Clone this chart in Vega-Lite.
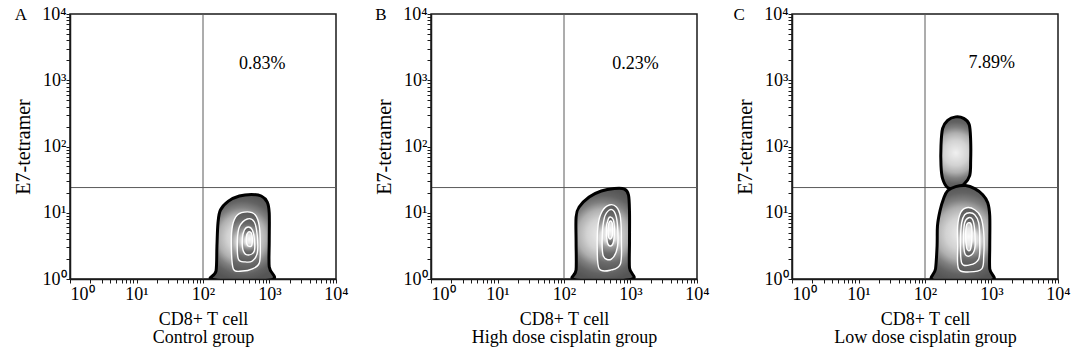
{
  "$schema": "https://vega.github.io/schema/vega-lite/v6.json",
  "background": "white",
  "padding": {"left": 12, "top": 4, "right": 5, "bottom": 3},
  "spacing": 95,
  "bounds": "flush",
  "config": {
    "view": {"stroke": "#1a1a1a", "strokeWidth": 1.5},
    "axis": {"labelFont": "Liberation Serif", "labelFontSize": 18, "labelColor": "#000", "titleFont": "Liberation Serif", "titleFontSize": 20, "titleFontWeight": "normal", "titleColor": "#000", "domainColor": "#1a1a1a", "domainWidth": 1.5, "tickColor": "#1a1a1a", "tickWidth": 1, "grid": false}
  },
  "datasets": {
    "gates": [
      {"panel": "A", "cd8": 100, "tetramer": 24},
      {"panel": "B", "cd8": 100, "tetramer": 24},
      {"panel": "C", "cd8": 100, "tetramer": 24}
    ],
    "labels": [
      {"panel": "A", "label": "0.83%", "cd8": 780, "tetramer": 1760},
      {"panel": "B", "label": "0.23%", "cd8": 1190, "tetramer": 1730},
      {"panel": "C", "label": "7.89%", "cd8": 1010, "tetramer": 1810}
    ],
    "letters": [
      {"panel": "A", "letter": "A", "cd8": 0.183, "tetramer": 8035},
      {"panel": "B", "letter": "B", "cd8": 0.176, "tetramer": 8035},
      {"panel": "C", "letter": "C", "cd8": 0.16, "tetramer": 8035}
    ],
    "contours": [
      {"panel":"A","level":"outer","shape":"A1","order":1,"cd8":134,"tetramer":1},
      {"panel":"A","level":"outer","shape":"A1","order":2,"cd8":157,"tetramer":1.32},
      {"panel":"A","level":"outer","shape":"A1","order":3,"cd8":162,"tetramer":3.15},
      {"panel":"A","level":"outer","shape":"A1","order":4,"cd8":168,"tetramer":7.0},
      {"panel":"A","level":"outer","shape":"A1","order":5,"cd8":183,"tetramer":11},
      {"panel":"A","level":"outer","shape":"A1","order":6,"cd8":241,"tetramer":15},
      {"panel":"A","level":"outer","shape":"A1","order":7,"cd8":352,"tetramer":17.9},
      {"panel":"A","level":"outer","shape":"A1","order":8,"cd8":533,"tetramer":18.9},
      {"panel":"A","level":"outer","shape":"A1","order":9,"cd8":752,"tetramer":17.9},
      {"panel":"A","level":"outer","shape":"A1","order":10,"cd8":925,"tetramer":14.5},
      {"panel":"A","level":"outer","shape":"A1","order":11,"cd8":991,"tetramer":9.9},
      {"panel":"A","level":"outer","shape":"A1","order":12,"cd8":991,"tetramer":3.75},
      {"panel":"A","level":"outer","shape":"A1","order":13,"cd8":991,"tetramer":1.52},
      {"panel":"A","level":"outer","shape":"A1","order":14,"cd8":1138,"tetramer":1},
      {"panel":"A","level":"outer","shape":"A1","order":15,"cd8":391,"tetramer":0.93},
      {"panel":"A","level":"ring2","shape":"A2","order":1,"cd8":286,"tetramer":1.42},
      {"panel":"A","level":"ring2","shape":"A2","order":2,"cd8":267,"tetramer":3.15},
      {"panel":"A","level":"ring2","shape":"A2","order":3,"cd8":277,"tetramer":6.31},
      {"panel":"A","level":"ring2","shape":"A2","order":4,"cd8":329,"tetramer":9.25},
      {"panel":"A","level":"ring2","shape":"A2","order":5,"cd8":464,"tetramer":10.3},
      {"panel":"A","level":"ring2","shape":"A2","order":6,"cd8":612,"tetramer":9.25},
      {"panel":"A","level":"ring2","shape":"A2","order":7,"cd8":702,"tetramer":6.31},
      {"panel":"A","level":"ring2","shape":"A2","order":8,"cd8":727,"tetramer":3.15},
      {"panel":"A","level":"ring2","shape":"A2","order":9,"cd8":702,"tetramer":1.74},
      {"panel":"A","level":"ring2","shape":"A2","order":10,"cd8":552,"tetramer":1.42},
      {"panel":"A","level":"ring2","shape":"A2","order":11,"cd8":391,"tetramer":1.32},
      {"panel":"A","level":"ring3","shape":"A3","order":1,"cd8":340,"tetramer":2.0},
      {"panel":"A","level":"ring3","shape":"A3","order":2,"cd8":329,"tetramer":3.75},
      {"panel":"A","level":"ring3","shape":"A3","order":3,"cd8":352,"tetramer":6.1},
      {"panel":"A","level":"ring3","shape":"A3","order":4,"cd8":464,"tetramer":8.05},
      {"panel":"A","level":"ring3","shape":"A3","order":5,"cd8":591,"tetramer":7.25},
      {"panel":"A","level":"ring3","shape":"A3","order":6,"cd8":655,"tetramer":4.46},
      {"panel":"A","level":"ring3","shape":"A3","order":7,"cd8":655,"tetramer":2.47},
      {"panel":"A","level":"ring3","shape":"A3","order":8,"cd8":552,"tetramer":1.87},
      {"panel":"A","level":"ring3","shape":"A3","order":9,"cd8":433,"tetramer":1.81},
      {"panel":"A","level":"ring4","shape":"A4","order":1,"cd8":404,"tetramer":2.65},
      {"panel":"A","level":"ring4","shape":"A4","order":2,"cd8":391,"tetramer":4.02},
      {"panel":"A","level":"ring4","shape":"A4","order":3,"cd8":419,"tetramer":5.49},
      {"panel":"A","level":"ring4","shape":"A4","order":4,"cd8":481,"tetramer":6.1},
      {"panel":"A","level":"ring4","shape":"A4","order":5,"cd8":552,"tetramer":5.49},
      {"panel":"A","level":"ring4","shape":"A4","order":6,"cd8":591,"tetramer":4.02},
      {"panel":"A","level":"ring4","shape":"A4","order":7,"cd8":591,"tetramer":2.65},
      {"panel":"A","level":"ring4","shape":"A4","order":8,"cd8":481,"tetramer":2.30},
      {"panel":"A","level":"core","shape":"A5","order":1,"cd8":464,"tetramer":3.26},
      {"panel":"A","level":"core","shape":"A5","order":2,"cd8":449,"tetramer":4.30},
      {"panel":"A","level":"core","shape":"A5","order":3,"cd8":481,"tetramer":5.12},
      {"panel":"A","level":"core","shape":"A5","order":4,"cd8":533,"tetramer":4.95},
      {"panel":"A","level":"core","shape":"A5","order":5,"cd8":552,"tetramer":4.02},
      {"panel":"A","level":"core","shape":"A5","order":6,"cd8":533,"tetramer":3.15},

      {"panel":"B","level":"outer","shape":"B1","order":1,"cd8":137,"tetramer":1},
      {"panel":"B","level":"outer","shape":"B1","order":2,"cd8":152,"tetramer":1.37},
      {"panel":"B","level":"outer","shape":"B1","order":3,"cd8":152,"tetramer":3.62},
      {"panel":"B","level":"outer","shape":"B1","order":4,"cd8":152,"tetramer":8.62},
      {"panel":"B","level":"outer","shape":"B1","order":5,"cd8":169,"tetramer":12.2},
      {"panel":"B","level":"outer","shape":"B1","order":6,"cd8":239,"tetramer":17.3},
      {"panel":"B","level":"outer","shape":"B1","order":7,"cd8":364,"tetramer":21.3},
      {"panel":"B","level":"outer","shape":"B1","order":8,"cd8":572,"tetramer":23.2},
      {"panel":"B","level":"outer","shape":"B1","order":9,"cd8":811,"tetramer":22.8},
      {"panel":"B","level":"outer","shape":"B1","order":10,"cd8":933,"tetramer":18.5},
      {"panel":"B","level":"outer","shape":"B1","order":11,"cd8":966,"tetramer":10.3},
      {"panel":"B","level":"outer","shape":"B1","order":12,"cd8":966,"tetramer":3.62},
      {"panel":"B","level":"outer","shape":"B1","order":13,"cd8":966,"tetramer":1.47},
      {"panel":"B","level":"outer","shape":"B1","order":14,"cd8":1072,"tetramer":1},
      {"panel":"B","level":"outer","shape":"B1","order":15,"cd8":339,"tetramer":0.93},
      {"panel":"B","level":"ring2","shape":"B2","order":1,"cd8":339,"tetramer":1.42},
      {"panel":"B","level":"ring2","shape":"B2","order":2,"cd8":316,"tetramer":3.04},
      {"panel":"B","level":"ring2","shape":"B2","order":3,"cd8":327,"tetramer":6.76},
      {"panel":"B","level":"ring2","shape":"B2","order":4,"cd8":376,"tetramer":10.6},
      {"panel":"B","level":"ring2","shape":"B2","order":5,"cd8":481,"tetramer":13.1},
      {"panel":"B","level":"ring2","shape":"B2","order":6,"cd8":614,"tetramer":12.2},
      {"panel":"B","level":"ring2","shape":"B2","order":7,"cd8":705,"tetramer":8.62},
      {"panel":"B","level":"ring2","shape":"B2","order":8,"cd8":730,"tetramer":3.62},
      {"panel":"B","level":"ring2","shape":"B2","order":9,"cd8":705,"tetramer":1.68},
      {"panel":"B","level":"ring2","shape":"B2","order":10,"cd8":515,"tetramer":1.37},
      {"panel":"B","level":"ring3","shape":"B3","order":1,"cd8":390,"tetramer":2.22},
      {"panel":"B","level":"ring3","shape":"B3","order":2,"cd8":376,"tetramer":4.30},
      {"panel":"B","level":"ring3","shape":"B3","order":3,"cd8":404,"tetramer":8.33},
      {"panel":"B","level":"ring3","shape":"B3","order":4,"cd8":481,"tetramer":11.0},
      {"panel":"B","level":"ring3","shape":"B3","order":5,"cd8":572,"tetramer":10.3},
      {"panel":"B","level":"ring3","shape":"B3","order":6,"cd8":635,"tetramer":6.76},
      {"panel":"B","level":"ring3","shape":"B3","order":7,"cd8":635,"tetramer":3.04},
      {"panel":"B","level":"ring3","shape":"B3","order":8,"cd8":515,"tetramer":2.0},
      {"panel":"B","level":"ring4","shape":"B4","order":1,"cd8":448,"tetramer":3.62},
      {"panel":"B","level":"ring4","shape":"B4","order":2,"cd8":433,"tetramer":5.89},
      {"panel":"B","level":"ring4","shape":"B4","order":3,"cd8":464,"tetramer":8.05},
      {"panel":"B","level":"ring4","shape":"B4","order":4,"cd8":498,"tetramer":8.62},
      {"panel":"B","level":"ring4","shape":"B4","order":5,"cd8":553,"tetramer":7.77},
      {"panel":"B","level":"ring4","shape":"B4","order":6,"cd8":572,"tetramer":5.49},
      {"panel":"B","level":"ring4","shape":"B4","order":7,"cd8":553,"tetramer":3.62},
      {"panel":"B","level":"ring4","shape":"B4","order":8,"cd8":498,"tetramer":3.15},
      {"panel":"B","level":"core","shape":"B5","order":1,"cd8":464,"tetramer":4.46},
      {"panel":"B","level":"core","shape":"B5","order":2,"cd8":464,"tetramer":6.31},
      {"panel":"B","level":"core","shape":"B5","order":3,"cd8":498,"tetramer":7.51},
      {"panel":"B","level":"core","shape":"B5","order":4,"cd8":534,"tetramer":6.76},
      {"panel":"B","level":"core","shape":"B5","order":5,"cd8":534,"tetramer":4.62},
      {"panel":"B","level":"core","shape":"B5","order":6,"cd8":498,"tetramer":4.02},

      {"panel":"C","level":"outer","shape":"C1u","order":1,"cd8":219,"tetramer":23.9},
      {"panel":"C","level":"outer","shape":"C1u","order":2,"cd8":184,"tetramer":32.7},
      {"panel":"C","level":"outer","shape":"C1u","order":3,"cd8":174,"tetramer":51.5},
      {"panel":"C","level":"outer","shape":"C1u","order":4,"cd8":174,"tetramer":104},
      {"panel":"C","level":"outer","shape":"C1u","order":5,"cd8":184,"tetramer":187},
      {"panel":"C","level":"outer","shape":"C1u","order":6,"cd8":219,"tetramer":248},
      {"panel":"C","level":"outer","shape":"C1u","order":7,"cd8":289,"tetramer":280},
      {"panel":"C","level":"outer","shape":"C1u","order":8,"cd8":381,"tetramer":266},
      {"panel":"C","level":"outer","shape":"C1u","order":9,"cd8":462,"tetramer":215},
      {"panel":"C","level":"outer","shape":"C1u","order":10,"cd8":486,"tetramer":123},
      {"panel":"C","level":"outer","shape":"C1u","order":11,"cd8":486,"tetramer":61.4},
      {"panel":"C","level":"outer","shape":"C1u","order":12,"cd8":470,"tetramer":36.4},
      {"panel":"C","level":"outer","shape":"C1u","order":13,"cd8":381,"tetramer":26.6},
      {"panel":"C","level":"outer","shape":"C1u","order":14,"cd8":289,"tetramer":23.1},
      {"panel":"C","level":"outer","shape":"C1l","order":1,"cd8":130,"tetramer":0.97},
      {"panel":"C","level":"outer","shape":"C1l","order":2,"cd8":144,"tetramer":1.42},
      {"panel":"C","level":"outer","shape":"C1l","order":3,"cd8":152,"tetramer":3.16},
      {"panel":"C","level":"outer","shape":"C1l","order":4,"cd8":154,"tetramer":6.35},
      {"panel":"C","level":"outer","shape":"C1l","order":5,"cd8":168,"tetramer":10.7},
      {"panel":"C","level":"outer","shape":"C1l","order":6,"cd8":190,"tetramer":16.3},
      {"panel":"C","level":"outer","shape":"C1l","order":7,"cd8":219,"tetramer":21.5},
      {"panel":"C","level":"outer","shape":"C1l","order":8,"cd8":289,"tetramer":24.8},
      {"panel":"C","level":"outer","shape":"C1l","order":9,"cd8":409,"tetramer":25.7},
      {"panel":"C","level":"outer","shape":"C1l","order":10,"cd8":559,"tetramer":23.1},
      {"panel":"C","level":"outer","shape":"C1l","order":11,"cd8":738,"tetramer":18.7},
      {"panel":"C","level":"outer","shape":"C1l","order":12,"cd8":878,"tetramer":14.2},
      {"panel":"C","level":"outer","shape":"C1l","order":13,"cd8":941,"tetramer":9.0},
      {"panel":"C","level":"outer","shape":"C1l","order":14,"cd8":941,"tetramer":3.16},
      {"panel":"C","level":"outer","shape":"C1l","order":15,"cd8":941,"tetramer":1.42},
      {"panel":"C","level":"outer","shape":"C1l","order":16,"cd8":1045,"tetramer":0.97},
      {"panel":"C","level":"outer","shape":"C1l","order":17,"cd8":356,"tetramer":0.9},
      {"panel":"C","level":"ring2","shape":"C2","order":1,"cd8":320,"tetramer":1.42},
      {"panel":"C","level":"ring2","shape":"C2","order":2,"cd8":310,"tetramer":3.16},
      {"panel":"C","level":"ring2","shape":"C2","order":3,"cd8":310,"tetramer":6.35},
      {"panel":"C","level":"ring2","shape":"C2","order":4,"cd8":343,"tetramer":10},
      {"panel":"C","level":"ring2","shape":"C2","order":5,"cd8":423,"tetramer":11.9},
      {"panel":"C","level":"ring2","shape":"C2","order":6,"cd8":559,"tetramer":11.1},
      {"panel":"C","level":"ring2","shape":"C2","order":7,"cd8":688,"tetramer":8.70},
      {"panel":"C","level":"ring2","shape":"C2","order":8,"cd8":764,"tetramer":4.98},
      {"panel":"C","level":"ring2","shape":"C2","order":9,"cd8":764,"tetramer":2.23},
      {"panel":"C","level":"ring2","shape":"C2","order":10,"cd8":713,"tetramer":1.42},
      {"panel":"C","level":"ring2","shape":"C2","order":11,"cd8":470,"tetramer":1.28},
      {"panel":"C","level":"ring3","shape":"C3","order":1,"cd8":356,"tetramer":1.75},
      {"panel":"C","level":"ring3","shape":"C3","order":2,"cd8":343,"tetramer":3.77},
      {"panel":"C","level":"ring3","shape":"C3","order":3,"cd8":356,"tetramer":7.06},
      {"panel":"C","level":"ring3","shape":"C3","order":4,"cd8":395,"tetramer":9.33},
      {"panel":"C","level":"ring3","shape":"C3","order":5,"cd8":470,"tetramer":10},
      {"panel":"C","level":"ring3","shape":"C3","order":6,"cd8":559,"tetramer":9.33},
      {"panel":"C","level":"ring3","shape":"C3","order":7,"cd8":642,"tetramer":7.06},
      {"panel":"C","level":"ring3","shape":"C3","order":8,"cd8":665,"tetramer":3.77},
      {"panel":"C","level":"ring3","shape":"C3","order":9,"cd8":642,"tetramer":2.01},
      {"panel":"C","level":"ring3","shape":"C3","order":10,"cd8":470,"tetramer":1.63},
      {"panel":"C","level":"ring4","shape":"C4","order":1,"cd8":395,"tetramer":2.48},
      {"panel":"C","level":"ring4","shape":"C4","order":2,"cd8":381,"tetramer":4.48},
      {"panel":"C","level":"ring4","shape":"C4","order":3,"cd8":395,"tetramer":7.06},
      {"panel":"C","level":"ring4","shape":"C4","order":4,"cd8":454,"tetramer":8.4},
      {"panel":"C","level":"ring4","shape":"C4","order":5,"cd8":521,"tetramer":7.83},
      {"panel":"C","level":"ring4","shape":"C4","order":6,"cd8":559,"tetramer":5.34},
      {"panel":"C","level":"ring4","shape":"C4","order":7,"cd8":559,"tetramer":2.85},
      {"panel":"C","level":"ring4","shape":"C4","order":8,"cd8":470,"tetramer":2.23},
      {"panel":"C","level":"core","shape":"C5","order":1,"cd8":423,"tetramer":2.95},
      {"panel":"C","level":"core","shape":"C5","order":2,"cd8":409,"tetramer":4.48},
      {"panel":"C","level":"core","shape":"C5","order":3,"cd8":423,"tetramer":6.58},
      {"panel":"C","level":"core","shape":"C5","order":4,"cd8":470,"tetramer":7.06},
      {"panel":"C","level":"core","shape":"C5","order":5,"cd8":504,"tetramer":6.13},
      {"panel":"C","level":"core","shape":"C5","order":6,"cd8":504,"tetramer":3.77},
      {"panel":"C","level":"core","shape":"C5","order":7,"cd8":486,"tetramer":2.85},
      {"panel":"C","level":"core","shape":"C5","order":8,"cd8":454,"tetramer":2.66}
    ]
  },
  "hconcat": [
    {
      "width": 266, "height": 265,
      "layer": [
        {"data": {"name": "gates"}, "transform": [{"filter": "datum.panel == 'A'"}],
         "mark": {"type": "rule", "color": "#5a5a5a", "strokeWidth": 1},
         "encoding": {"x": {"field": "cd8", "type": "quantitative", "scale": {"type": "log", "domain": [1, 10000]},
           "axis": {"values": [1,2,3,4,5,6,7,8,9,10,20,30,40,50,60,70,80,90,100,200,300,400,500,600,700,800,900,1000,2000,3000,4000,5000,6000,7000,8000,9000,10000],
             "labelExpr": "datum.value == 1 ? '10⁰' : datum.value == 10 ? '10¹' : datum.value == 100 ? '10²' : datum.value == 1000 ? '10³' : datum.value == 10000 ? '10⁴' : ''",
             "labelAlign": {"condition": {"test": "datum.value == 1", "value": "left"}, "value": "center"},
             "labelFlush": false, "labelOverlap": false, "tickSize": 4,
             "labelPadding": 2, "title": ["CD8+ T cell", "Control group"], "titleFontSize": 18, "titlePadding": 7, "titleLineHeight": 18, "zindex": 1}}}},
        {"data": {"name": "gates"}, "transform": [{"filter": "datum.panel == 'A'"}],
         "mark": {"type": "rule", "color": "#5a5a5a", "strokeWidth": 1},
         "encoding": {"y": {"field": "tetramer", "type": "quantitative", "scale": {"type": "log", "domain": [1, 10000]},
           "axis": {"values": [1,2,3,4,5,6,7,8,9,10,20,30,40,50,60,70,80,90,100,200,300,400,500,600,700,800,900,1000,2000,3000,4000,5000,6000,7000,8000,9000,10000],
             "labelExpr": "datum.value == 1 ? '10⁰' : datum.value == 10 ? '10¹' : datum.value == 100 ? '10²' : datum.value == 1000 ? '10³' : datum.value == 10000 ? '10⁴' : ''",
             "labelOverlap": false, "tickSize": 4,
             "labelPadding": 0, "title": "E7-tetramer", "titlePadding": 8, "zindex": 1}}}},
        {"data": {"name": "contours"}, "transform": [{"filter": "datum.panel == 'A' && datum.level == 'outer'"}],
         "mark": {"type": "line", "interpolate": "cardinal-closed", "clip": true, "stroke": "#000", "strokeWidth": 3, "strokeJoin": "round",
           "fill": {"gradient": "radial", "x1": 0.5, "y1": 0.5, "r1": 0, "x2": 0.5, "y2": 0.5, "r2": 0.5, "stops": [{"offset": 0, "color": "#f0f0f0"}, {"offset": 0.35, "color": "#d2d2d2"}, {"offset": 0.55, "color": "#afafaf"}, {"offset": 0.7, "color": "#808080"}, {"offset": 0.85, "color": "#626262"}, {"offset": 1, "color": "#555555"}]}},
         "encoding": {"x": {"field": "cd8", "type": "quantitative", "scale": {"type": "log", "domain": [1, 10000]}},
           "y": {"field": "tetramer", "type": "quantitative", "scale": {"type": "log", "domain": [1, 10000]}},
           "detail": {"field": "shape"}, "order": {"field": "order", "type": "quantitative"}}},
        {"data": {"name": "contours"}, "transform": [{"filter": "datum.panel == 'A' && (datum.level == 'ring2' || datum.level == 'ring3' || datum.level == 'ring4')"}],
         "mark": {"type": "line", "interpolate": "cardinal-closed", "clip": true, "stroke": "#ffffff", "strokeWidth": 1.4,
           "fill": {"gradient": "radial", "x1": 0.5, "y1": 0.5, "r1": 0, "x2": 0.5, "y2": 0.5, "r2": 0.5, "stops": [{"offset": 0, "color": "#f4f4f4"}, {"offset": 0.3, "color": "#dcdcdc"}, {"offset": 0.5, "color": "#9a9a9a"}, {"offset": 0.75, "color": "#6a6a6a"}, {"offset": 1, "color": "#585858"}]}},
         "encoding": {"x": {"field": "cd8", "type": "quantitative", "scale": {"type": "log", "domain": [1, 10000]}},
           "y": {"field": "tetramer", "type": "quantitative", "scale": {"type": "log", "domain": [1, 10000]}},
           "detail": {"field": "shape"}, "order": {"field": "order", "type": "quantitative"}}},
        {"data": {"name": "contours"}, "transform": [{"filter": "datum.panel == 'A' && datum.level == 'core'"}],
         "mark": {"type": "line", "interpolate": "cardinal-closed", "clip": true, "stroke": "#ffffff", "strokeWidth": 1.4,
           "fill": {"gradient": "radial", "x1": 0.5, "y1": 0.5, "r1": 0, "x2": 0.5, "y2": 0.5, "r2": 0.5, "stops": [{"offset": 0, "color": "#fbfbfb"}, {"offset": 0.6, "color": "#e6e6e6"}, {"offset": 1, "color": "#b8b8b8"}]}},
         "encoding": {"x": {"field": "cd8", "type": "quantitative", "scale": {"type": "log", "domain": [1, 10000]}},
           "y": {"field": "tetramer", "type": "quantitative", "scale": {"type": "log", "domain": [1, 10000]}},
           "detail": {"field": "shape"}, "order": {"field": "order", "type": "quantitative"}}},
        {"data": {"name": "labels"}, "transform": [{"filter": "datum.panel == 'A'"}],
         "mark": {"type": "text", "fontSize": 18, "font": "Liberation Serif", "color": "#000", "align": "center", "baseline": "middle"},
         "encoding": {"x": {"field": "cd8", "type": "quantitative", "scale": {"type": "log", "domain": [1, 10000]}},
           "y": {"field": "tetramer", "type": "quantitative", "scale": {"type": "log", "domain": [1, 10000]}},
           "text": {"field": "label"}}},
        {"data": {"name": "letters"}, "transform": [{"filter": "datum.panel == 'A'"}],
         "mark": {"type": "text", "fontSize": 17, "font": "Liberation Serif", "color": "#000", "align": "center", "baseline": "alphabetic"},
         "encoding": {"x": {"field": "cd8", "type": "quantitative", "scale": {"type": "log", "domain": [1, 10000]}},
           "y": {"field": "tetramer", "type": "quantitative", "scale": {"type": "log", "domain": [1, 10000]}},
           "text": {"field": "letter"}}}
      ]
    },
    {
      "width": 266, "height": 265,
      "layer": [
        {"data": {"name": "gates"}, "transform": [{"filter": "datum.panel == 'B'"}],
         "mark": {"type": "rule", "color": "#5a5a5a", "strokeWidth": 1},
         "encoding": {"x": {"field": "cd8", "type": "quantitative", "scale": {"type": "log", "domain": [1, 10000]},
           "axis": {"values": [1,2,3,4,5,6,7,8,9,10,20,30,40,50,60,70,80,90,100,200,300,400,500,600,700,800,900,1000,2000,3000,4000,5000,6000,7000,8000,9000,10000],
             "labelExpr": "datum.value == 1 ? '10⁰' : datum.value == 10 ? '10¹' : datum.value == 100 ? '10²' : datum.value == 1000 ? '10³' : datum.value == 10000 ? '10⁴' : ''",
             "labelAlign": {"condition": {"test": "datum.value == 1", "value": "left"}, "value": "center"},
             "labelFlush": false, "labelOverlap": false, "tickSize": 4,
             "labelPadding": 2, "title": ["CD8+ T cell", "High dose cisplatin group"], "titleFontSize": 18, "titlePadding": 7, "titleLineHeight": 18, "zindex": 1}}}},
        {"data": {"name": "gates"}, "transform": [{"filter": "datum.panel == 'B'"}],
         "mark": {"type": "rule", "color": "#5a5a5a", "strokeWidth": 1},
         "encoding": {"y": {"field": "tetramer", "type": "quantitative", "scale": {"type": "log", "domain": [1, 10000]},
           "axis": {"values": [1,2,3,4,5,6,7,8,9,10,20,30,40,50,60,70,80,90,100,200,300,400,500,600,700,800,900,1000,2000,3000,4000,5000,6000,7000,8000,9000,10000],
             "labelExpr": "datum.value == 1 ? '10⁰' : datum.value == 10 ? '10¹' : datum.value == 100 ? '10²' : datum.value == 1000 ? '10³' : datum.value == 10000 ? '10⁴' : ''",
             "labelOverlap": false, "tickSize": 4,
             "labelPadding": 0, "title": "E7-tetramer", "titlePadding": 8, "zindex": 1}}}},
        {"data": {"name": "contours"}, "transform": [{"filter": "datum.panel == 'B' && datum.level == 'outer'"}],
         "mark": {"type": "line", "interpolate": "cardinal-closed", "clip": true, "stroke": "#000", "strokeWidth": 3, "strokeJoin": "round",
           "fill": {"gradient": "radial", "x1": 0.5, "y1": 0.5, "r1": 0, "x2": 0.5, "y2": 0.5, "r2": 0.5, "stops": [{"offset": 0, "color": "#f0f0f0"}, {"offset": 0.35, "color": "#d2d2d2"}, {"offset": 0.55, "color": "#afafaf"}, {"offset": 0.7, "color": "#808080"}, {"offset": 0.85, "color": "#626262"}, {"offset": 1, "color": "#555555"}]}},
         "encoding": {"x": {"field": "cd8", "type": "quantitative", "scale": {"type": "log", "domain": [1, 10000]}},
           "y": {"field": "tetramer", "type": "quantitative", "scale": {"type": "log", "domain": [1, 10000]}},
           "detail": {"field": "shape"}, "order": {"field": "order", "type": "quantitative"}}},
        {"data": {"name": "contours"}, "transform": [{"filter": "datum.panel == 'B' && (datum.level == 'ring2' || datum.level == 'ring3' || datum.level == 'ring4')"}],
         "mark": {"type": "line", "interpolate": "cardinal-closed", "clip": true, "stroke": "#ffffff", "strokeWidth": 1.4,
           "fill": {"gradient": "radial", "x1": 0.5, "y1": 0.5, "r1": 0, "x2": 0.5, "y2": 0.5, "r2": 0.5, "stops": [{"offset": 0, "color": "#f4f4f4"}, {"offset": 0.3, "color": "#dcdcdc"}, {"offset": 0.5, "color": "#9a9a9a"}, {"offset": 0.75, "color": "#6a6a6a"}, {"offset": 1, "color": "#585858"}]}},
         "encoding": {"x": {"field": "cd8", "type": "quantitative", "scale": {"type": "log", "domain": [1, 10000]}},
           "y": {"field": "tetramer", "type": "quantitative", "scale": {"type": "log", "domain": [1, 10000]}},
           "detail": {"field": "shape"}, "order": {"field": "order", "type": "quantitative"}}},
        {"data": {"name": "contours"}, "transform": [{"filter": "datum.panel == 'B' && datum.level == 'core'"}],
         "mark": {"type": "line", "interpolate": "cardinal-closed", "clip": true, "stroke": "#ffffff", "strokeWidth": 1.4,
           "fill": {"gradient": "radial", "x1": 0.5, "y1": 0.5, "r1": 0, "x2": 0.5, "y2": 0.5, "r2": 0.5, "stops": [{"offset": 0, "color": "#fbfbfb"}, {"offset": 0.6, "color": "#e6e6e6"}, {"offset": 1, "color": "#b8b8b8"}]}},
         "encoding": {"x": {"field": "cd8", "type": "quantitative", "scale": {"type": "log", "domain": [1, 10000]}},
           "y": {"field": "tetramer", "type": "quantitative", "scale": {"type": "log", "domain": [1, 10000]}},
           "detail": {"field": "shape"}, "order": {"field": "order", "type": "quantitative"}}},
        {"data": {"name": "labels"}, "transform": [{"filter": "datum.panel == 'B'"}],
         "mark": {"type": "text", "fontSize": 18, "font": "Liberation Serif", "color": "#000", "align": "center", "baseline": "middle"},
         "encoding": {"x": {"field": "cd8", "type": "quantitative", "scale": {"type": "log", "domain": [1, 10000]}},
           "y": {"field": "tetramer", "type": "quantitative", "scale": {"type": "log", "domain": [1, 10000]}},
           "text": {"field": "label"}}},
        {"data": {"name": "letters"}, "transform": [{"filter": "datum.panel == 'B'"}],
         "mark": {"type": "text", "fontSize": 17, "font": "Liberation Serif", "color": "#000", "align": "center", "baseline": "alphabetic"},
         "encoding": {"x": {"field": "cd8", "type": "quantitative", "scale": {"type": "log", "domain": [1, 10000]}},
           "y": {"field": "tetramer", "type": "quantitative", "scale": {"type": "log", "domain": [1, 10000]}},
           "text": {"field": "letter"}}}
      ]
    },
    {
      "width": 266, "height": 265,
      "layer": [
        {"data": {"name": "gates"}, "transform": [{"filter": "datum.panel == 'C'"}],
         "mark": {"type": "rule", "color": "#5a5a5a", "strokeWidth": 1},
         "encoding": {"x": {"field": "cd8", "type": "quantitative", "scale": {"type": "log", "domain": [1, 10000]},
           "axis": {"values": [1,2,3,4,5,6,7,8,9,10,20,30,40,50,60,70,80,90,100,200,300,400,500,600,700,800,900,1000,2000,3000,4000,5000,6000,7000,8000,9000,10000],
             "labelExpr": "datum.value == 1 ? '10⁰' : datum.value == 10 ? '10¹' : datum.value == 100 ? '10²' : datum.value == 1000 ? '10³' : datum.value == 10000 ? '10⁴' : ''",
             "labelAlign": {"condition": {"test": "datum.value == 1", "value": "left"}, "value": "center"},
             "labelFlush": false, "labelOverlap": false, "tickSize": 4,
             "labelPadding": 2, "title": ["CD8+ T cell", "Low dose cisplatin group"], "titleFontSize": 18, "titlePadding": 7, "titleLineHeight": 18, "zindex": 1}}}},
        {"data": {"name": "gates"}, "transform": [{"filter": "datum.panel == 'C'"}],
         "mark": {"type": "rule", "color": "#5a5a5a", "strokeWidth": 1},
         "encoding": {"y": {"field": "tetramer", "type": "quantitative", "scale": {"type": "log", "domain": [1, 10000]},
           "axis": {"values": [1,2,3,4,5,6,7,8,9,10,20,30,40,50,60,70,80,90,100,200,300,400,500,600,700,800,900,1000,2000,3000,4000,5000,6000,7000,8000,9000,10000],
             "labelExpr": "datum.value == 1 ? '10⁰' : datum.value == 10 ? '10¹' : datum.value == 100 ? '10²' : datum.value == 1000 ? '10³' : datum.value == 10000 ? '10⁴' : ''",
             "labelOverlap": false, "tickSize": 4,
             "labelPadding": 0, "title": "E7-tetramer", "titlePadding": 8, "zindex": 1}}}},
        {"data": {"name": "contours"}, "transform": [{"filter": "datum.panel == 'C' && datum.level == 'outer'"}],
         "mark": {"type": "line", "interpolate": "cardinal-closed", "clip": true, "stroke": "#000", "strokeWidth": 3, "strokeJoin": "round",
           "fill": {"gradient": "radial", "x1": 0.5, "y1": 0.5, "r1": 0, "x2": 0.5, "y2": 0.5, "r2": 0.5, "stops": [{"offset": 0, "color": "#f0f0f0"}, {"offset": 0.35, "color": "#d2d2d2"}, {"offset": 0.55, "color": "#afafaf"}, {"offset": 0.7, "color": "#808080"}, {"offset": 0.85, "color": "#626262"}, {"offset": 1, "color": "#555555"}]}},
         "encoding": {"x": {"field": "cd8", "type": "quantitative", "scale": {"type": "log", "domain": [1, 10000]}},
           "y": {"field": "tetramer", "type": "quantitative", "scale": {"type": "log", "domain": [1, 10000]}},
           "detail": {"field": "shape"}, "order": {"field": "order", "type": "quantitative"}}},
        {"data": {"name": "contours"}, "transform": [{"filter": "datum.panel == 'C' && (datum.level == 'ring2' || datum.level == 'ring3' || datum.level == 'ring4')"}],
         "mark": {"type": "line", "interpolate": "cardinal-closed", "clip": true, "stroke": "#ffffff", "strokeWidth": 1.4,
           "fill": {"gradient": "radial", "x1": 0.5, "y1": 0.5, "r1": 0, "x2": 0.5, "y2": 0.5, "r2": 0.5, "stops": [{"offset": 0, "color": "#f4f4f4"}, {"offset": 0.3, "color": "#dcdcdc"}, {"offset": 0.5, "color": "#9a9a9a"}, {"offset": 0.75, "color": "#6a6a6a"}, {"offset": 1, "color": "#585858"}]}},
         "encoding": {"x": {"field": "cd8", "type": "quantitative", "scale": {"type": "log", "domain": [1, 10000]}},
           "y": {"field": "tetramer", "type": "quantitative", "scale": {"type": "log", "domain": [1, 10000]}},
           "detail": {"field": "shape"}, "order": {"field": "order", "type": "quantitative"}}},
        {"data": {"name": "contours"}, "transform": [{"filter": "datum.panel == 'C' && datum.level == 'core'"}],
         "mark": {"type": "line", "interpolate": "cardinal-closed", "clip": true, "stroke": "#ffffff", "strokeWidth": 1.4,
           "fill": {"gradient": "radial", "x1": 0.5, "y1": 0.5, "r1": 0, "x2": 0.5, "y2": 0.5, "r2": 0.5, "stops": [{"offset": 0, "color": "#fbfbfb"}, {"offset": 0.6, "color": "#e6e6e6"}, {"offset": 1, "color": "#b8b8b8"}]}},
         "encoding": {"x": {"field": "cd8", "type": "quantitative", "scale": {"type": "log", "domain": [1, 10000]}},
           "y": {"field": "tetramer", "type": "quantitative", "scale": {"type": "log", "domain": [1, 10000]}},
           "detail": {"field": "shape"}, "order": {"field": "order", "type": "quantitative"}}},
        {"data": {"name": "labels"}, "transform": [{"filter": "datum.panel == 'C'"}],
         "mark": {"type": "text", "fontSize": 18, "font": "Liberation Serif", "color": "#000", "align": "center", "baseline": "middle"},
         "encoding": {"x": {"field": "cd8", "type": "quantitative", "scale": {"type": "log", "domain": [1, 10000]}},
           "y": {"field": "tetramer", "type": "quantitative", "scale": {"type": "log", "domain": [1, 10000]}},
           "text": {"field": "label"}}},
        {"data": {"name": "letters"}, "transform": [{"filter": "datum.panel == 'C'"}],
         "mark": {"type": "text", "fontSize": 17, "font": "Liberation Serif", "color": "#000", "align": "center", "baseline": "alphabetic"},
         "encoding": {"x": {"field": "cd8", "type": "quantitative", "scale": {"type": "log", "domain": [1, 10000]}},
           "y": {"field": "tetramer", "type": "quantitative", "scale": {"type": "log", "domain": [1, 10000]}},
           "text": {"field": "letter"}}}
      ]
    }
  ]
}
